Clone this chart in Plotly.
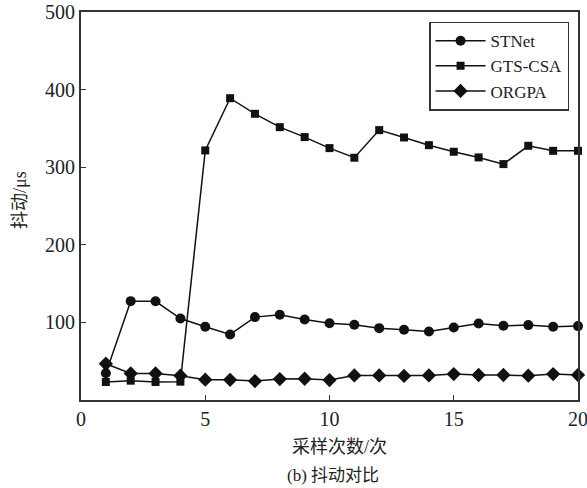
import plotly.graph_objects as go

x_vals = list(range(1, 21))
stnet = [34.4, 127.4, 127.2, 105.0, 94.4, 84.5, 106.8, 109.8, 103.8, 99.0,
         96.9, 92.6, 90.5, 88.3, 93.5, 98.6, 95.6, 96.5, 94.3, 95.2]
gts_csa = [23.2, 24.9, 23.2, 23.6, 321.6, 388.9, 368.8, 351.6, 338.8, 324.6,
           312.2, 347.8, 338.3, 328.4, 319.9, 312.6, 304.0, 327.6, 321.1, 321.1]
orgpa = [46.7, 34.3, 34.3, 31.3, 26.2, 26.0, 24.4, 27.0, 27.4, 25.7,
         31.7, 31.7, 31.0, 31.7, 33.4, 32.2, 32.2, 31.3, 33.4, 32.2]

series_names = ["STNet", "GTS-CSA", "ORGPA"]
x_ticks = [0, 5, 10, 15, 20]
y_ticks = [100, 200, 300, 400, 500]

FONT = "Liberation Serif, Times New Roman, Noto Sans CJK SC, serif"
LINE = "#111111"
TXT = "#222222"

fig = go.Figure()
for name, ys, sym, size in [
    (series_names[0], stnet, "circle", 10),
    (series_names[1], gts_csa, "square", 8),
    (series_names[2], orgpa, "diamond", 11),
]:
    fig.add_trace(go.Scatter(
        x=x_vals, y=ys, name=name, mode="lines+markers",
        line=dict(color=LINE, width=1.5),
        marker=dict(symbol=sym, size=size, color=LINE),
        cliponaxis=False,
    ))

axis_common = dict(
    showline=True, linecolor="#333333", linewidth=2, mirror=True,
    ticks="inside", ticklen=5, tickwidth=1, tickcolor="#333333",
    showgrid=False, zeroline=False, automargin=False,
    ticklabeloverflow="allow",
    tickfont=dict(family=FONT, size=20, color=TXT),
)

fig.update_layout(
    width=587, height=488,
    margin=dict(l=81, r=9, t=12, b=88),
    paper_bgcolor="white", plot_bgcolor="white",
    font=dict(family=FONT, color=TXT),
    xaxis=dict(range=[0, 20], tickvals=x_ticks, **axis_common),
    yaxis=dict(range=[0, 500], tickvals=y_ticks, **axis_common),
    legend=dict(
        x=0.982, y=0.975, xanchor="right", yanchor="top",
        bgcolor="white", bordercolor="#333333", borderwidth=1.5,
        font=dict(family=FONT, size=17, color=TXT),
        tracegroupgap=0, itemwidth=50,
    ),
    annotations=[
        dict(text="采样次数/次", xref="paper", yref="paper", x=0.5, y=0,
             xshift=10, yshift=-47, showarrow=False, yanchor="middle",
             font=dict(family=FONT, size=18, color=TXT)),
        dict(text="(b) 抖动对比", xref="paper", yref="paper", x=0.5, y=0,
             xshift=3, yshift=-75, showarrow=False, yanchor="middle",
             font=dict(family=FONT, size=17, color=TXT)),
        dict(text="抖动/μs", xref="paper", yref="paper", x=0, y=0.5,
             xshift=-61, yshift=6, showarrow=False, textangle=-90,
             xanchor="center", yanchor="middle",
             font=dict(family=FONT, size=18, color=TXT)),
    ],
)

fig.write_html(
    "out.html",
    config={"displayModeBar": False},
    post_script="document.body.style.margin='0';document.body.style.overflow='hidden';",
)
